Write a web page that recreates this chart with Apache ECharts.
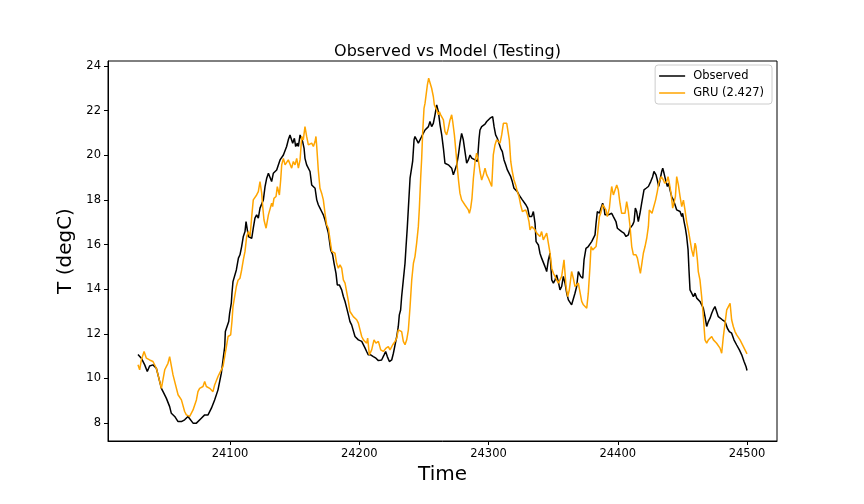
<!DOCTYPE html>
<html>
<head>
<meta charset="utf-8">
<script src="https://cdn.jsdelivr.net/npm/echarts@6/dist/echarts.min.js"></script>
<style>
html,body{margin:0;padding:0;background:#fff;}
#chart{width:864px;height:504px;}
</style>
</head>
<body>
<div id="chart"></div>
<script>
const titleText = 'Observed vs Model (Testing)';
const xLabel = 'Time';
const yLabel = 'T (degC)';
const seriesNames = ['Observed', 'GRU (2.427)'];
const xTicks = [24100, 24200, 24300, 24400, 24500];
const yTicks = [8, 10, 12, 14, 16, 18, 20, 22, 24];

// [time, temperature]
const observed = [
[24028.8,11.07],[24031.4,10.91],[24034.0,10.61],[24036.0,10.31],[24037.8,10.56],[24040.4,10.61],[24041.7,10.65],[24043.0,10.46],[24044.3,10.16],[24045.6,9.86],[24046.9,9.56],[24048.2,9.41],[24050.7,9.12],[24053.3,8.74],[24054.6,8.44],[24057.2,8.30],[24059.8,8.07],[24062.4,8.07],[24064.9,8.15],[24067.5,8.30],[24068.8,8.33],[24071.4,8.00],[24074.0,8.00],[24075.2,7.97],[24077.8,8.22],[24080.4,8.37],[24083.0,8.37],[24085.6,8.67],[24088.1,9.04],[24090.7,9.49],[24093.3,10.24],[24094.6,10.83],[24095.9,11.43],[24096.4,12.10],[24097.9,12.10],[24099.0,12.55],[24099.7,12.92],[24101.0,13.37],[24101.5,13.82],[24102.3,14.34],[24103.6,14.39],[24104.9,14.86],
[24106.5,15.39],[24107.7,15.54],[24109.0,15.91],[24110.3,16.36],[24111.6,16.58],[24112.4,17.03],[24113.4,16.95],[24114.2,16.36],[24115.5,16.43],[24116.8,16.28],[24118.0,16.73],[24119.3,17.18],[24120.6,17.33],[24121.9,17.18],[24123.2,17.63],[24124.5,17.70],[24125.8,18.00],[24127.1,18.59],[24128.4,18.97],[24129.7,19.19],[24131.0,19.27],[24132.2,18.82],[24133.5,19.19],[24134.8,19.27],[24136.1,19.34],[24137.4,19.34],[24138.7,19.79],[24140.0,19.72],[24141.3,20.01],[24142.6,20.09],[24143.8,20.39],[24145.1,20.69],[24146.4,20.91],[24147.2,20.98],[24148.5,20.54],[24149.8,20.76],[24150.8,20.39],[24152.1,20.54],[24152.9,20.39],[24154.2,20.91],[24155.5,20.98],[24156.2,20.61],[24157.3,20.31],[24158.0,19.86],[24159.3,19.57],[24160.6,19.49],[24161.9,19.27],[24163.2,18.67],[24164.5,18.60],[24165.8,18.52],[24167.1,18.00],[24168.3,17.78],[24169.6,17.63],[24170.9,17.48],[24172.2,17.33],[24173.5,17.10],[24174.8,16.80],[24176.1,16.51],
[24177.9,15.76],[24179.4,15.54],[24180.5,15.16],[24182.0,14.71],[24183.0,14.19],[24184.6,14.19],[24186.4,13.97],[24187.7,13.67],[24189.0,13.45],[24190.3,13.15],[24191.6,12.85],[24192.8,12.55],[24194.1,12.40],[24195.4,12.33],[24196.7,11.88],[24198.0,11.81],[24199.3,11.73],[24200.6,11.76],[24201.9,11.66],[24203.2,11.58],[24204.5,11.36],[24205.7,11.21],[24207.0,11.06],[24208.8,11.06],[24210.9,10.98],[24212.9,10.91],[24214.8,10.80],[24217.3,10.83],[24219.2,11.06],[24220.4,11.21],[24221.7,10.98],[24223.3,10.76],[24225.1,10.83],[24226.4,11.13],[24227.7,11.51],[24229.0,11.88],[24230.2,12.33],[24231.0,12.85],[24232.0,13.07],[24232.8,13.67],[24234.1,14.42],[24235.4,15.16],[24236.2,15.91],
[24237.2,16.80],[24238.0,17.63],[24239.3,18.97],[24240.6,19.04],[24241.3,19.72],[24242.4,20.69],[24243.1,20.84],[24244.4,20.76],[24245.7,20.54],[24247.0,20.46],[24248.3,20.84],[24249.6,20.91],[24250.9,21.13],[24252.2,21.21],[24253.5,21.28],[24254.7,21.51],[24256.0,21.28],[24257.3,21.43],[24258.6,21.81],[24259.9,22.25],[24261.2,21.95],[24262.5,21.36],[24263.8,20.91],[24265.1,20.31],[24266.3,19.64],[24267.6,19.64],[24268.9,19.57],[24270.2,19.64],[24271.5,19.42],[24272.8,19.12],[24274.1,19.12],[24275.4,19.57],[24276.7,20.01],[24277.9,20.54],[24279.2,20.98],[24280.5,20.69],[24281.8,20.16],[24283.1,19.64],[24284.4,19.79],[24285.7,20.01],[24287.0,19.87],[24288.3,19.79],[24289.6,19.79],[24291.4,19.72],[24292.7,20.76],[24293.4,21.13],[24294.7,21.28],[24296.0,21.36],[24297.3,21.39],[24298.6,21.51],[24299.9,21.51],[24301.2,21.66],[24302.5,21.66],[24303.2,21.73],[24304.3,21.28],[24305.5,20.91],[24306.8,20.76],[24308.1,20.69],[24309.4,20.31],[24310.7,20.16],[24312.0,19.79],[24313.3,19.57],[24314.6,19.34],[24315.9,19.27],[24317.2,19.04],[24318.4,18.82],[24319.7,18.52],[24321.0,18.45],[24322.3,18.37],[24323.6,18.22],[24324.9,18.15],[24326.2,18.00],[24327.5,17.92],[24329.0,17.77],[24330.3,17.63],[24331.6,17.25],
[24333.4,17.25],[24334.7,17.48],[24336.0,16.95],[24336.8,16.13],[24338.6,15.98],[24339.8,15.61],[24341.1,15.39],[24342.4,15.31],[24343.7,15.01],[24345.0,14.79],[24346.3,15.31],[24347.6,15.61],[24348.9,14.42],[24350.2,14.27],[24351.5,14.42],[24352.7,14.64],[24354.0,14.34],[24355.3,13.97],[24356.6,14.12],[24357.9,14.57],[24359.2,14.27],[24360.5,13.82],[24361.8,13.52],[24363.1,13.45],[24364.3,13.30],[24365.6,13.37],[24366.9,13.82],[24368.2,14.12],[24369.5,14.79],[24370.8,14.86],
[24371.3,14.57],[24372.9,14.49],[24373.9,15.31],[24375.4,15.83],[24377.2,15.91],[24378.5,15.98],[24379.8,16.13],[24381.1,16.21],[24382.4,16.43],[24383.2,16.95],[24384.2,17.48],[24385.8,17.40],[24387.0,17.63],[24388.3,17.85],[24389.4,17.63],[24390.1,17.33],[24391.4,17.25],[24392.7,17.33],[24394.0,17.25],[24395.3,17.40],[24396.6,17.25],[24398.6,17.03],[24399.7,16.73],[24401.2,16.66],[24403.0,16.58],[24404.8,16.51],[24406.4,16.36],[24408.2,16.43],[24409.5,16.73],[24411.5,16.88],[24412.6,17.03],[24413.6,17.63],[24414.6,17.48],[24415.9,17.03],[24417.2,17.40],[24418.5,17.85],[24420.3,18.45],[24421.9,18.52],[24423.7,18.60],[24425.5,18.82],[24427.0,19.04],[24428.0,19.27],[24429.6,19.12],[24430.6,18.89],[24431.7,18.60],[24432.7,18.89],[24434.0,19.27],[24434.8,19.42],[24435.8,19.19],[24437.3,18.82],[24438.4,18.60],[24439.4,18.75],[24440.4,18.45],[24441.7,18.15],[24443.0,18.00],[24444.3,17.78],[24445.6,17.55],[24446.9,17.48],[24448.2,17.48],[24449.5,17.25],[24450.2,17.40],[24451.3,17.03],[24452.3,16.73],[24453.3,16.36],[24454.4,15.76],[24455.1,14.86],[24455.9,13.97],[24457.2,13.82],[24458.5,13.67],[24459.8,13.82],[24461.1,13.60],[24462.3,13.52],[24463.6,13.45],[24464.9,13.37],[24466.2,13.15],[24467.5,12.77],[24468.8,12.33],[24470.1,12.55],[24471.4,12.70],[24472.7,12.92],[24474.0,13.10],[24475.2,13.22],[24476.5,13.15],[24477.8,12.77],[24479.1,12.70],[24480.9,12.63],[24483.0,12.55],[24484.8,12.25],[24486.3,12.10],[24488.1,12.03],[24489.9,11.73],[24492.0,11.50],[24494.1,11.28],[24495.9,11.06],[24497.7,10.76],[24499.2,10.54],[24500.0,10.36]
];

const gru = [
[24028.8,10.61],[24030.1,10.39],[24031.4,10.83],[24033.5,11.21],[24035.3,10.91],[24037.8,10.83],[24040.4,10.76],[24043.0,10.46],[24044.3,10.16],[24046.9,9.56],[24049.5,10.39],[24052.0,10.68],[24053.3,10.98],[24054.1,10.98],[24055.9,10.16],[24057.2,10.09],[24059.8,9.27],[24062.4,9.04],[24064.9,8.52],[24066.2,8.37],[24068.8,8.30],[24070.1,8.37],[24071.4,8.59],[24074.0,9.04],[24075.2,9.41],[24076.5,9.56],[24077.8,9.56],[24079.1,9.64],[24080.4,9.86],[24081.7,9.64],[24084.3,9.56],[24086.8,9.41],[24088.1,9.71],[24090.7,10.09],[24092.0,10.24],[24093.3,10.16],[24094.6,10.54],[24095.9,10.98],[24097.2,11.43],[24098.5,11.88],[24100.5,11.95],[24101.5,12.55],[24102.3,13.22],[24103.6,13.67],[24104.9,14.12],[24106.2,14.40],
[24107.7,14.49],[24109.0,14.86],[24110.3,15.31],[24111.6,15.69],[24112.9,16.36],[24114.2,16.58],[24115.5,16.36],[24116.8,17.25],[24118.0,18.00],[24119.3,18.07],[24120.6,18.22],[24121.9,18.37],[24123.2,18.82],[24124.5,18.30],[24125.3,17.70],[24126.3,17.10],[24127.9,16.73],[24129.7,17.33],[24131.0,17.40],[24132.2,17.85],[24133.0,17.70],[24134.0,18.07],[24135.6,18.15],[24136.6,18.59],[24138.2,18.22],[24139.2,18.89],[24140.0,19.57],[24141.3,19.86],[24142.6,19.57],[24143.8,19.49],[24145.1,19.79],[24146.4,19.72],[24147.7,19.42],[24149.0,19.72],[24150.3,19.57],[24151.6,19.86],[24152.9,19.42],[24154.2,19.79],[24155.5,20.84],[24156.7,20.69],[24158.0,21.28],[24159.3,20.84],[24160.6,20.46],[24161.9,20.39],[24163.2,20.54],[24164.5,20.39],[24165.8,20.61],[24166.5,20.84],[24167.1,20.39],[24168.3,19.34],[24169.6,18.52],[24170.9,18.30],[24172.2,18.00],[24173.5,17.40],[24174.8,16.88],[24176.1,16.73],
[24177.4,16.21],[24178.7,15.69],[24181.2,15.61],[24182.5,15.16],[24183.8,14.94],[24185.1,15.09],[24186.4,14.94],[24187.7,14.42],[24189.0,14.27],[24190.3,14.34],[24191.6,13.45],[24192.8,13.00],[24194.1,13.00],[24195.4,12.77],[24196.7,12.85],[24198.0,12.63],[24199.3,12.48],[24200.6,12.18],[24201.9,11.88],[24203.2,11.73],[24204.5,11.66],[24205.7,11.58],[24206.5,11.81],[24207.8,11.06],[24209.6,11.28],[24211.4,11.73],[24212.9,11.58],[24214.8,11.66],[24216.6,11.28],[24218.6,11.21],[24220.7,11.36],[24222.5,11.43],[24223.8,11.28],[24225.9,11.51],[24227.7,11.66],[24229.0,11.81],[24230.2,12.18],[24231.5,12.25],[24232.8,12.10],[24234.1,11.66],[24235.4,11.51],[24236.7,11.73],[24238.0,12.18],[24239.3,13.22],[24240.6,14.42],[24241.9,15.16],[24243.1,15.46],[24244.4,16.06],[24245.7,16.80],
[24246.5,17.63],[24247.5,18.97],[24248.3,19.87],[24249.1,21.06],[24250.1,22.10],[24250.9,22.33],[24251.6,22.28],[24252.7,23.15],[24253.7,23.45],[24254.7,23.45],[24256.0,23.00],[24257.3,22.63],[24258.1,22.25],[24259.1,22.25],[24259.9,22.03],[24261.2,21.81],[24262.0,21.95],[24263.0,21.81],[24264.3,21.88],[24265.1,21.58],[24266.3,21.06],[24267.6,20.91],[24268.9,21.21],[24270.2,21.58],[24271.5,21.81],[24272.3,21.51],[24273.6,20.91],[24274.9,20.09],[24275.9,19.42],[24276.9,18.82],[24277.9,18.30],[24279.2,18.00],[24280.5,18.07],[24281.8,17.77],[24283.1,17.85],[24284.4,17.55],[24285.2,17.40],[24286.2,17.63],[24287.2,18.07],[24288.3,18.97],[24289.6,19.72],[24290.8,20.09],[24292.1,19.79],[24293.4,19.27],[24294.7,18.89],[24296.0,19.12],[24297.3,19.42],[24298.6,19.12],[24299.9,18.97],[24301.2,18.97],[24302.5,18.60],[24303.7,20.01],[24305.0,20.46],[24306.3,20.69],[24307.6,20.61],[24308.9,20.54],[24310.2,20.91],[24311.5,21.43],[24312.8,21.51],[24314.1,21.43],[24315.4,21.36],[24316.1,20.69],[24317.2,19.72],[24318.4,19.27],[24319.7,18.89],[24321.0,18.67],[24322.3,18.37],[24323.6,18.15],[24324.9,17.77],[24326.2,17.48],[24327.5,17.40],[24328.8,17.55],[24330.1,17.33],[24331.3,17.03],
[24332.1,16.66],[24333.4,16.80],[24334.7,16.80],[24336.0,16.66],[24337.3,16.51],[24338.6,16.58],[24339.8,16.36],[24341.1,16.58],[24342.4,16.21],[24343.7,16.13],[24345.0,16.51],[24346.3,16.58],[24347.6,15.61],[24348.9,14.94],[24350.2,14.71],[24351.5,14.57],[24352.7,14.42],[24354.0,14.27],
[24355.3,14.27],[24356.6,14.57],[24358.4,15.31],[24360.0,14.12],[24361.3,13.67],[24362.5,13.97],[24364.3,14.79],[24365.6,14.49],[24366.9,14.12],[24368.2,14.19],[24369.5,14.27],[24370.8,14.34],[24372.1,13.45],[24373.4,13.30],[24374.7,13.37],[24376.0,13.15],[24377.2,13.82],[24378.5,15.01],[24379.3,15.91],[24380.6,15.76],[24381.9,15.76],[24383.2,15.91],[24384.2,16.36],[24385.8,17.25],[24386.8,17.40],[24388.3,17.78],[24389.4,17.70],[24390.9,17.55],[24391.9,17.25],[24393.5,17.63],[24394.5,18.22],[24395.3,18.60],[24396.6,18.22],[24397.9,18.30],[24399.2,18.67],[24400.4,18.45],[24401.7,17.85],[24403.0,17.40],[24404.3,17.48],[24405.6,17.40],[24406.9,17.92],[24408.2,17.48],[24409.5,16.81],[24410.8,15.91],[24412.1,15.54],[24414.1,15.54],[24415.2,15.39],[24416.2,15.09],[24417.5,14.71],[24418.5,15.09],[24419.8,15.61],[24421.1,15.91],[24422.4,16.28],[24423.7,16.81],[24424.4,17.55],[24425.5,17.63],[24426.5,17.40],[24428.0,17.48],[24429.3,18.00],[24430.6,18.37],[24431.7,18.75],[24432.7,18.67],[24433.7,19.04],[24435.3,18.89],[24436.3,18.75],[24437.9,18.82],[24438.9,19.04],[24439.9,18.75],[24441.2,18.30],[24442.5,17.63],[24443.5,17.55],[24444.6,18.15],[24445.6,19.04],[24446.9,18.67],[24448.2,18.15],[24449.5,17.70],[24450.8,17.99],[24452.0,17.55],[24453.3,17.03],[24454.6,16.66],[24455.9,16.21],[24457.2,15.76],[24458.5,15.46],[24459.8,16.06],[24460.5,15.91],[24461.6,15.31],[24462.3,14.79],[24463.6,14.42],[24464.9,13.67],[24466.2,12.77],[24467.5,11.73],[24468.8,11.58],[24470.1,11.73],[24471.4,11.66],[24472.7,11.88],[24474.0,11.73],[24475.2,11.81],[24476.5,11.58],[24477.8,11.66],[24479.1,11.36],[24480.4,11.13],[24481.7,11.88],[24483.0,12.48],[24484.3,13.07],[24485.6,13.22],[24486.9,13.37],[24488.1,12.63],[24489.4,12.33],[24490.7,12.10],[24492.0,11.95],[24493.3,11.88],[24494.6,11.73],[24495.9,11.66],[24497.2,11.43],[24498.5,11.40],[24500.0,11.10]
];

const FONT = 'DejaVu Sans';
const chart = echarts.init(document.getElementById('chart'), null, {renderer: 'canvas'});

chart.setOption({
  animation: false,
  backgroundColor: '#ffffff',
  title: {
    text: titleText,
    left: 442.5,
    textAlign: 'center',
    top: 39,
    textStyle: {fontFamily: FONT, fontSize: 16, fontWeight: 'normal', color: '#000'}
  },
  legend: {
    data: seriesNames,
    orient: 'vertical',
    right: 92,
    top: 65,
    padding: [5, 8, 5, 4],
    itemWidth: 26,
    itemHeight: 14,
    itemGap: 5,
    backgroundColor: 'rgba(255,255,255,0.8)',
    borderColor: '#cccccc',
    borderWidth: 1,
    borderRadius: 3,
    icon: 'path://M0,0 L26,0 L26,1.5 L0,1.5 Z',
    textStyle: {fontFamily: FONT, fontSize: 11.5, color: '#000', padding: [0, 0, 0, 3]}
  },
  grid: {
    left: 108, right: 87, top: 61, bottom: 63,
    show: true, borderColor: '#000', borderWidth: 1, backgroundColor: 'transparent'
  },
  xAxis: {
    type: 'value',
    min: 24005.6,
    max: 24523.2,
    name: xLabel,
    nameLocation: 'middle',
    nameGap: 23,
    nameTextStyle: {fontFamily: FONT, fontSize: 20, color: '#000'},
    axisLine: {show: true, onZero: false, lineStyle: {color: '#000', width: 1}},
    axisTick: {show: true, length: 4, lineStyle: {color: '#000'}, customValues: xTicks},
    axisLabel: {fontFamily: FONT, fontSize: 11.5, color: '#000', margin: 7, customValues: xTicks,
                formatter: function (v) { return String(v); }},
    splitLine: {show: false}
  },
  yAxis: {
    type: 'value',
    min: 7.2,
    max: 24.22,
    name: yLabel,
    nameLocation: 'middle',
    nameGap: 27,
    nameTextStyle: {fontFamily: FONT, fontSize: 20, color: '#000'},
    axisLine: {show: true, onZero: false, lineStyle: {color: '#000', width: 1}},
    axisTick: {show: true, length: 4, lineStyle: {color: '#000'}, customValues: yTicks},
    axisLabel: {fontFamily: FONT, fontSize: 11.5, color: '#000', margin: 7, customValues: yTicks,
                formatter: function (v) { return String(v); }},
    splitLine: {show: false}
  },
  series: [
    {
      name: seriesNames[0], type: 'line', data: observed,
      showSymbol: false, symbol: 'none',
      lineStyle: {color: '#000000', width: 1.5},
      itemStyle: {color: '#000000'},
      z: 3
    },
    {
      name: seriesNames[1], type: 'line', data: gru,
      showSymbol: false, symbol: 'none',
      lineStyle: {color: '#ffa500', width: 1.5},
      itemStyle: {color: '#ffa500'},
      z: 4
    }
  ]
});
</script>
</body>
</html>
